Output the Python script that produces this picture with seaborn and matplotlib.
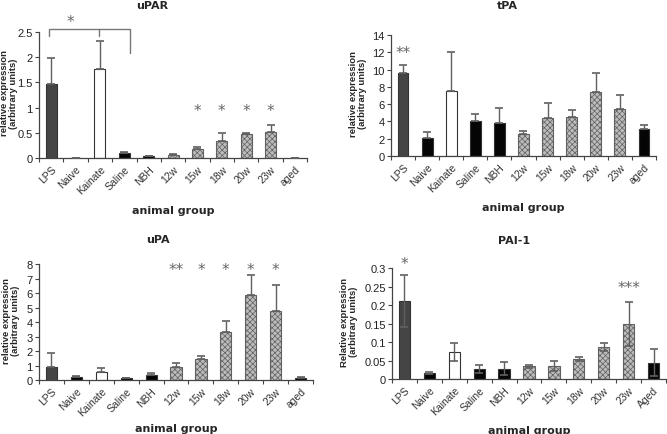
import matplotlib
matplotlib.use("Agg")
import matplotlib.pyplot as plt
from matplotlib.ticker import FuncFormatter, MultipleLocator
import numpy as np
import pandas as pd
import seaborn as sns

groups = ["LPS", "Naive", "Kainate", "Saline", "NBH", "12w", "15w", "18w", "20w", "23w", "aged"]
groups_pai = ["LPS", "Naive", "Kainate", "Saline", "NBH", "12w", "15w", "18w", "20w", "23w", "Aged"]

upar_mean = [1.46, 0.007, 1.77, 0.093, 0.033, 0.066, 0.18, 0.345, 0.484, 0.51, 0.005]
upar_err = [0.52, 0.0, 0.56, 0.02, 0.005, 0.005, 0.03, 0.145, 0.013, 0.15, 0.0]

tpa_mean = [9.56, 2.12, 7.52, 4.05, 3.86, 2.55, 4.4, 4.55, 7.44, 5.48, 3.09]
tpa_err = [0.93, 0.66, 4.51, 0.85, 1.69, 0.34, 1.69, 0.77, 2.2, 1.58, 0.5]

upa_mean = [0.91, 0.23, 0.55, 0.14, 0.37, 0.91, 1.44, 3.31, 5.85, 4.75, 0.16]
upa_err = [0.92, 0.03, 0.25, 0.03, 0.09, 0.26, 0.23, 0.74, 1.42, 1.81, 0.02]

pai_mean = [0.21, 0.017, 0.072, 0.027, 0.028, 0.034, 0.036, 0.055, 0.086, 0.149, 0.044]
pai_err = [0.07, 0.003, 0.024, 0.01, 0.017, 0.003, 0.014, 0.005, 0.01, 0.059, 0.036]

# group styles: dark / black / white / hatched
kind = ["dark", "black", "white", "black", "black", "hatch", "hatch", "hatch", "hatch", "hatch", "black"]
fill = {"dark": "#454545", "black": "#050505", "white": "#ffffff", "hatch": "#bcbcbc"}

sns.set_theme(style="white")
plt.rcParams["font.family"] = ["DejaVu Sans"]
plt.rcParams["hatch.linewidth"] = 0.5

ARIAL = "Liberation Sans"

fig = plt.figure(figsize=(6.67, 4.35), dpi=100)


def panel(rect, labels, mean, err, ymax, step, ylabel, title, title_x, title_y,
          ylab_x, xlab_y, both=False):
    ax = fig.add_axes(rect)
    df = pd.DataFrame({"group": labels, "value": mean, "kind": kind})
    sns.barplot(data=df, x="group", y="value", hue="group",
                palette={g: fill[k] for g, k in zip(labels, kind)},
                width=0.45, errorbar=None, legend=False, ax=ax,
                edgecolor="#333333", linewidth=0.8)
    for p, k in zip(ax.patches, kind):
        if k == "hatch":
            p.set_hatch("xxxxxx")
            p.set_edgecolor("#606060")
    lower = err if both else np.zeros(len(err))
    ax.errorbar(np.arange(len(labels)), mean, yerr=[lower, err], fmt="none",
                ecolor="#606060", elinewidth=1.0, capsize=3, capthick=1.2, zorder=5)
    ax.set_xlim(-0.5, len(labels) - 0.5)
    ax.set_ylim(0, ymax)
    ax.yaxis.set_major_locator(MultipleLocator(step))
    ax.yaxis.set_major_formatter(FuncFormatter(lambda v, pos: f"{v:g}"))
    ax.set_xticks(np.arange(len(labels)))
    ax.set_xticklabels(labels, rotation=45, ha="right", rotation_mode="anchor",
                       fontsize=7.5, color="#333333", family=ARIAL)
    ax.set_xticks(np.arange(len(labels) + 1) - 0.5, minor=True)
    ax.tick_params(axis="x", which="major", length=0, pad=4)
    ax.tick_params(axis="x", which="minor", length=3, width=0.8, color="#444444",
                   direction="out", bottom=True)
    ax.tick_params(axis="y", length=3, width=0.8, color="#444444", direction="out",
                   left=True, labelsize=8, labelcolor="#222222", pad=1.5)
    for t in ax.get_yticklabels():
        t.set_family(ARIAL)
    sns.despine(ax=ax)
    for s in ["left", "bottom"]:
        ax.spines[s].set_color("#444444")
        ax.spines[s].set_linewidth(0.9)
    ax.set_ylabel(ylabel, fontsize=6.8, fontweight="bold", linespacing=0.95,
                  family=ARIAL)
    ax.yaxis.set_label_coords(ylab_x, 0.52)
    ax.set_xlabel("animal group", fontsize=8, fontweight="bold")
    ax.xaxis.set_label_coords(0.5, xlab_y)
    fig.text(title_x, title_y, title, fontsize=8, fontweight="bold",
             ha="center", va="center")
    return ax


ax1 = panel([0.0585, 0.6345, 0.402, 0.2897], groups, upar_mean, upar_err, 2.5, 0.5,
            "relative expression\n(arbitrary units)", "uPAR", 152 / 667, 1 - 6 / 435,
            -0.079, -0.37)
ax2 = panel([0.5862, 0.639, 0.3973, 0.278], groups, tpa_mean, tpa_err, 14, 2,
            "relative expression\n(arbitrary units)", "tPA", 507 / 667, 1 - 6 / 435,
            -0.09, -0.38)
ax3 = panel([0.0585, 0.1241, 0.4108, 0.2667], groups, upa_mean, upa_err, 8, 1,
            "relative expression\n(arbitrary units)", "uPA", 158 / 667, 1 - 240 / 435,
            -0.071, -0.37)
ax4 = panel([0.5877, 0.1264, 0.4108, 0.2552], groups_pai, pai_mean, pai_err, 0.3, 0.05,
            "Relative expression\n(arbitrary units)", "PAI-1", 514 / 667, 1 - 241 / 435,
            -0.124, -0.41, both=True)

star = dict(ha="center", va="center", fontsize=11, color="#666666")

# uPAR significance
ax1.plot([-0.08, -0.08, 3.24, 3.24], [2.43, 2.55, 2.55, 2.08], color="#777777",
         lw=1.0, clip_on=False)
ax1.plot([1.98, 1.98], [2.55, 2.43], color="#777777", lw=1.0, clip_on=False)
ax1.text(0.8, 2.7, "*", **star)
for i in [6, 7, 8, 9]:
    ax1.text(i, 0.94, "*", **star)

ax2.text(0, 12.0, "**", **star)

ax3.text(5, 7.6, "**", **star)
for i in [6, 7, 8, 9]:
    ax3.text(i, 7.6, "*", **star)

ax4.text(0, 0.313, "*", **star)
ax4.text(9, 0.246, "***", **star)

fig.savefig("out.png", dpi=100)
